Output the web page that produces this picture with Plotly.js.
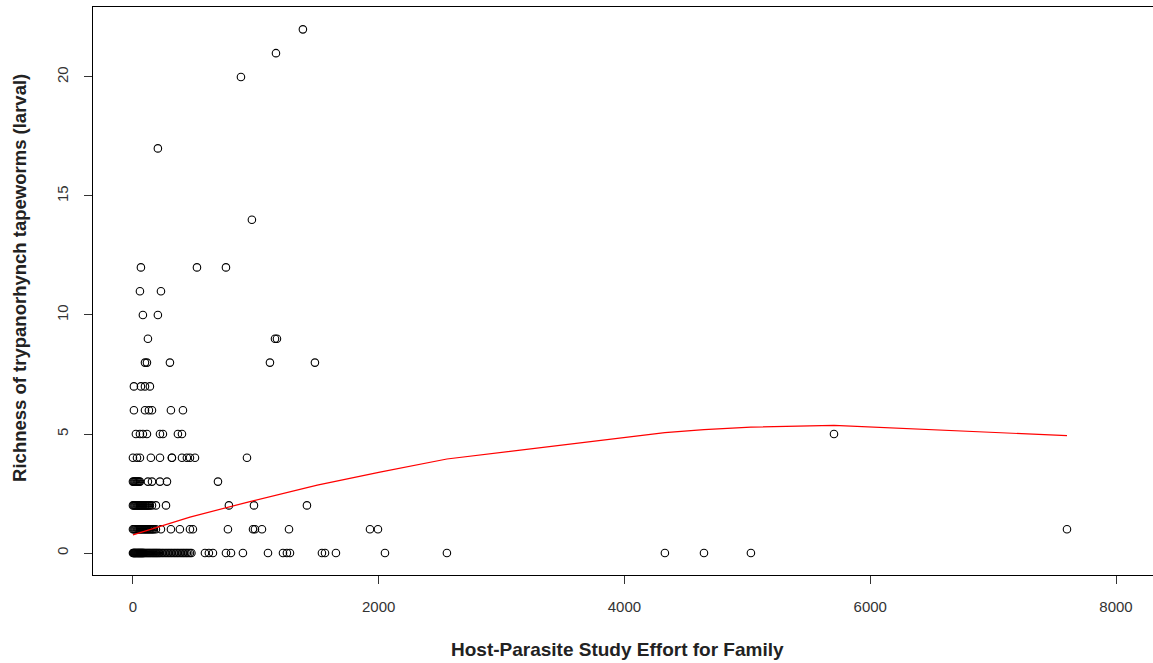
<!DOCTYPE html>
<html>
<head>
<meta charset="utf-8">
<script src="https://cdn.plot.ly/plotly-3.0.1.min.js"></script>
<style>
  html, body { margin: 0; padding: 0; background: #fff; }
  #chart { width: 1153px; height: 663px; }
</style>
</head>
<body>
<div id="chart"></div>
<script>
// Host-parasite study effort per host family, grouped by observed richness
const effortRich0 = [0, 4, 8, 12, 16, 20, 24, 28, 33, 37, 41, 45, 49, 53, 57, 61, 65, 69, 73, 77,
  81, 86, 90, 98, 106, 114, 122, 130, 138, 146, 155, 163, 171, 179, 187, 195, 203, 212,
  220, 232, 244, 256, 269, 281, 293, 305, 317, 330, 342, 354, 366, 378, 391, 403, 415, 427,
  439, 451, 464, 476, 586, 618, 651, 757, 798, 895,
  1099, 1221, 1253, 1278, 1538, 1563, 1652, 2051, 2555, 4329, 4647, 5029];
const effortRich1 = [0, 8, 16, 24, 33, 41, 49, 57, 65, 73, 81, 90, 98, 106, 114, 122, 130, 138,
  146, 155, 163, 171, 187, 228, 309, 382, 464, 488,
  773, 977, 993, 1050, 1270, 1929, 1994, 7601];
const effortRich2 = [0, 8, 16, 24, 33, 41, 49, 57, 65, 73, 81, 90, 98, 106, 114, 122, 130, 138,
  155, 187, 269, 781, 985, 1416];
const effortRich3 = [0, 8, 16, 24, 33, 41, 49, 57, 122, 155, 220, 277, 692];
const effortRich4 = [0, 33, 57, 146, 220, 317, 317, 399, 439, 464, 505, 928];
const effortRich5 = [24, 57, 81, 114, 220, 244, 366, 399, 5705];
const effortRich6 = [8, 98, 130, 155, 309, 407];
const effortRich7 = [8, 65, 98, 138];
const effortRich8 = [98, 114, 301, 1115, 1481];
const effortRich9 = [122, 1156, 1172];
const effortRich10 = [81, 203];
const effortRich11 = [57, 228];
const effortRich12 = [65, 521, 757];
const effortRich14 = [968];
const effortRich17 = [203];
const effortRich20 = [879];
const effortRich21 = [1164];
const effortRich22 = [1383];

const richnessLevels = [0, 1, 2, 3, 4, 5, 6, 7, 8, 9, 10, 11, 12, 14, 17, 20, 21, 22];
const effortByLevel = [effortRich0, effortRich1, effortRich2, effortRich3, effortRich4,
  effortRich5, effortRich6, effortRich7, effortRich8, effortRich9, effortRich10,
  effortRich11, effortRich12, effortRich14, effortRich17, effortRich20, effortRich21,
  effortRich22];

// Smoothed trend of richness against study effort
const fitEffort = [0, 464, 936, 1500, 2010, 2555, 4329, 4647, 5029, 5705, 7601];
const fitRichness = [0.76, 1.51, 2.14, 2.85, 3.40, 3.95, 5.06, 5.18, 5.29, 5.36, 4.93];

const xTicks = [0, 2000, 4000, 6000, 8000];
const yTicks = [0, 5, 10, 15, 20];

const effort = [];
const richness = [];
richnessLevels.forEach((lvl, i) => {
  effortByLevel[i].forEach(e => { effort.push(e); richness.push(lvl); });
});

const traces = [
  {
    x: effort, y: richness, type: 'scatter', mode: 'markers',
    marker: { symbol: 'circle-open', size: 7.5, color: '#000', line: { width: 1.1, color: '#000' } },
    hoverinfo: 'x+y'
  },
  {
    x: fitEffort, y: fitRichness, type: 'scatter', mode: 'lines',
    line: { color: '#ff0000', width: 1.2 },
    hoverinfo: 'skip'
  }
];

const tickFont = { family: 'Liberation Sans, Arial, sans-serif', size: 15, color: '#333' };

const layout = {
  width: 1153, height: 663,
  margin: { l: 93, r: 0, t: 7, b: 88 },
  paper_bgcolor: '#fff', plot_bgcolor: '#fff',
  showlegend: false,
  xaxis: {
    range: [-325, 8301], tickvals: xTicks, ticktext: xTicks.map(String),
    ticks: 'outside', ticklen: 8, tickwidth: 1, tickcolor: '#333', ticklabelstandoff: 10,
    showgrid: false, zeroline: false, showline: true, linecolor: '#000', linewidth: 1,
    mirror: true,
    tickfont: { family: 'Liberation Sans Narrow, Liberation Sans, Arial, sans-serif', size: 15, color: '#333' }
  },
  yaxis: {
    range: [-0.924, 22.94], tickvals: yTicks, ticktext: yTicks.map(String),
    ticks: 'outside', ticklen: 8, tickwidth: 1, tickcolor: '#333', tickangle: -90,
    ticklabelstandoff: 10,
    showgrid: false, zeroline: false, showline: true, linecolor: '#000', linewidth: 1,
    mirror: true, tickfont: tickFont
  },
  annotations: [
    {
      text: '<b>Host-Parasite Study Effort for Family</b>',
      xref: 'paper', yref: 'paper', x: 0.495, y: -0.132,
      xanchor: 'center', yanchor: 'middle', showarrow: false,
      font: { family: 'Liberation Sans Narrow, Liberation Sans, Arial, sans-serif', size: 19, color: '#222' }
    },
    {
      text: '<b>Richness of trypanorhynch tapeworms (larval)</b>',
      xref: 'paper', yref: 'paper', x: -0.0689, y: 0.523, textangle: -90,
      xanchor: 'center', yanchor: 'middle', showarrow: false,
      font: { family: 'Liberation Sans, Arial, sans-serif', size: 18.5, color: '#222' }
    }
  ]
};

Plotly.newPlot('chart', traces, layout, { displayModeBar: false, staticPlot: true });
</script>
</body>
</html>
